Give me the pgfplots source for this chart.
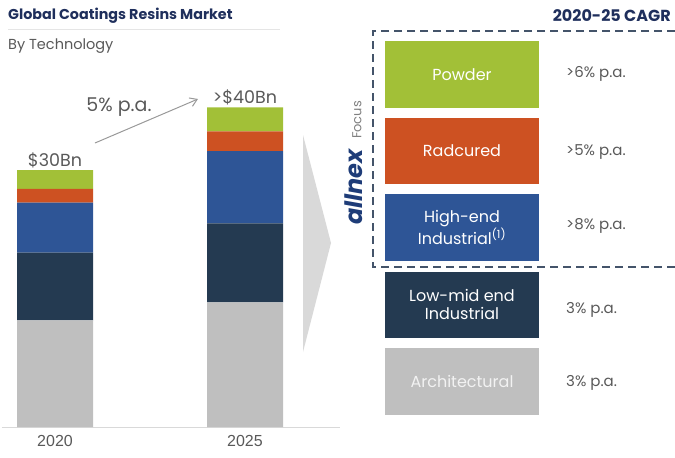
\documentclass[border=0pt]{standalone}
\usepackage{fontspec}
\setmainfont{Poppins}
\usepackage{pgfplots}
\pgfplotsset{compat=1.18}
\usetikzlibrary{arrows.meta}

\definecolor{cgreen}{HTML}{A2C037}
\definecolor{corange}{HTML}{CD5122}
\definecolor{cblue}{HTML}{2E5596}
\definecolor{cnavy}{HTML}{243A51}
\definecolor{cgrey}{HTML}{BFBFBF}
\definecolor{ctitle}{HTML}{1F2F5C}
\definecolor{ctext}{HTML}{595959}
\definecolor{cdash}{HTML}{44546A}
\definecolor{cchev}{HTML}{D9D9D9}
\definecolor{clogo}{HTML}{1E3C78}

\newcommand{\fs}[1]{\fontsize{#1}{#1}\selectfont}

\begin{document}
\begin{tikzpicture}[x=1pt,y=-1pt]
\useasboundingbox (0,0) rectangle (675,458);

% big grey chevron
\fill[cchev] (303,135) -- (331,243) -- (303,352) -- cycle;

% headings
\node[anchor=west, inner sep=0, text=ctitle, font=\bfseries\fs{14.3}] at (8,16) {Global Coatings Resins Market};
\draw[black!10, line width=1pt] (8,29) -- (280,29);
\node[anchor=west, inner sep=0, text=ctext, font=\fs{14.5}] at (8,46) {By Technology};
\node[anchor=east, inner sep=0, text=ctitle, font=\bfseries\fs{16}] at (671,16) {2020-25 CAGR};

% stacked bars
\coordinate (axsw) at (2,427);
\begin{axis}[
    at={(axsw)}, anchor=south west,
    scale only axis, width=338pt, height=367pt,
    ybar stacked, bar width=76pt,
    ymin=0, ymax=42.7,
    xmin=-0.279, xmax=1.5,
    axis x line=bottom, axis y line=none,
    x axis line style={draw=cchev, line width=1pt, -},
    xtick={0,1}, xticklabels={2020,2025},
    major tick length=0pt,
    xticklabel style={yshift=-5pt, text=ctext, font=\fontspec{Liberation Sans}\fs{16}},
    clip=false,
]
\addplot[fill=cgrey, draw=none] coordinates {(0,12.4) (1,14.5)};
\addplot[fill=cnavy, draw=none] coordinates {(0,7.9) (1,9.2)};
\addplot[fill=cblue, draw=none] coordinates {(0,5.8) (1,8.4)};
\addplot[fill=corange, draw=none] coordinates {(0,1.6) (1,2.3)};
\addplot[fill=cgreen, draw=none] coordinates {(0,2.2) (1,2.8)};
\node[anchor=south, text=ctext, font=\fs{17.5}, inner sep=2pt] at (axis cs:0,29.9) {\$30Bn};
\node[anchor=south, text=ctext, font=\fs{17.5}, inner sep=2pt] at (axis cs:1,37.2) {>\$40Bn};
\end{axis}

% growth arrow
\draw[black!40, line width=1pt, -{Straight Barb[length=7pt,width=9pt]}] (95,143) -- (198,99);
\node[text=ctext, font=\fs{19}] at (119,107) {5\% p.a.};

% focus frame
\draw[cdash, line width=1.8pt, dash pattern=on 8pt off 5pt] (675,31) -- (373,31) -- (373,267) -- (675,267);
\node[rotate=90, text=clogo, font=\bfseries\itshape\fs{24}] at (354,187) {allnex};
\node[rotate=90, text=black!50, font=\fs{13}] at (357,120) {Focus};

% legend boxes
\fill[cgreen] (385,41) rectangle (539,108);
\node[text=white, font=\fs{16}] at (462,74.5) {Powder};
\node[anchor=west, text=ctext, font=\fs{15}, inner sep=0] at (566,74) {>6\% p.a.};

\fill[corange] (385,118) rectangle (539,184);
\node[text=white, font=\fs{16}] at (462,151) {Radcured};
\node[anchor=west, text=ctext, font=\fs{15}, inner sep=0] at (566,152) {>5\% p.a.};

\fill[cblue] (385,194) rectangle (539,261);
\node[text=white, font=\fontsize{16}{19}\selectfont, align=center] at (462,227.5) {High-end\\Industrial\textsuperscript{(1)}};
\node[anchor=west, text=ctext, font=\fs{15}, inner sep=0] at (566,226) {>8\% p.a.};

\fill[cnavy] (385,272) rectangle (539,338);
\node[text=white, font=\fontsize{16}{18}\selectfont, align=center] at (462,304) {Low-mid end\\Industrial};
\node[anchor=west, text=ctext, font=\fs{15}, inner sep=0] at (566,310) {3\% p.a.};

\fill[cgrey] (385,348) rectangle (539,415);
\node[text=white!95!black, font=\fs{16}] at (462,381) {Architectural};
\node[anchor=west, text=ctext, font=\fs{15}, inner sep=0] at (566,383) {3\% p.a.};
\end{tikzpicture}
\end{document}
